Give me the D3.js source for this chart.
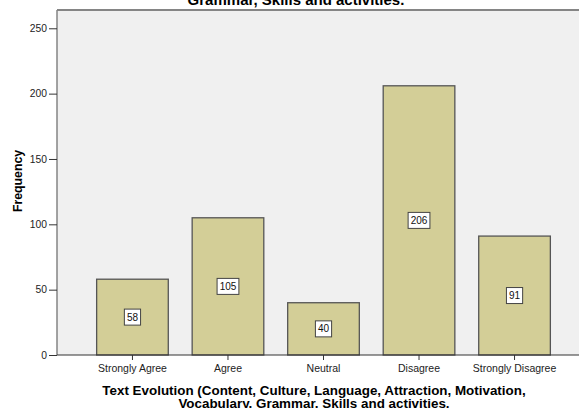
<!DOCTYPE html>
<html>
<head>
<meta charset="utf-8">
<script src="https://cdn.jsdelivr.net/npm/d3@7"></script>
<style>
body { margin: 0; background: #fff; }
svg { display: block; font-family: Arial, "Liberation Sans", sans-serif; }
</style>
</head>
<body>
<svg id="chart" width="579" height="408"></svg>
<script>
// categories and counts
var categories = ["Strongly Agree", "Agree", "Neutral", "Disagree", "Strongly Disagree"]
var counts = [58, 105, 40, 206, 91]
var yTicks = [0, 50, 100, 150, 200, 250]
var titleLastLine = "Grammar, Skills and activities."
var xTitleLines = ["Text Evolution (Content, Culture, Language, Attraction, Motivation,",
    "Vocabulary, Grammar, Skills and activities."]

var svg = d3.select("#chart")

// note: "top" is taken by window.top, so plot edges get their own names
var plotLeft = 57, plotTop = 10, plotBottom = 355, plotRight = 590

var x = d3.scaleBand()
    .domain(categories)
    .range([plotLeft, plotRight])
    .paddingInner(0.25)
    .paddingOuter(0.415)

var y = d3.scaleLinear()
    .domain([0, 264])
    .range([plotBottom, plotTop])

// plot background
svg.append("rect")
    .attr("x", plotLeft).attr("y", plotTop)
    .attr("width", plotRight - plotLeft).attr("height", plotBottom - plotTop)
    .attr("fill", "#f0f0f0")

// frame top and left
svg.append("line")
    .attr("x1", plotLeft).attr("x2", plotRight).attr("y1", plotTop).attr("y2", plotTop)
    .attr("stroke", "#858585").attr("stroke-width", 2)
svg.append("line")
    .attr("x1", plotLeft).attr("x2", plotLeft).attr("y1", plotTop).attr("y2", plotBottom)
    .attr("stroke", "#858585").attr("stroke-width", 1.5)

// bars
svg.selectAll(".bar")
    .data(counts)
    .enter()
    .append("rect")
    .attr("class", "bar")
    .attr("x", function(d, i) { return x(categories[i]) })
    .attr("y", function(d) { return y(d) })
    .attr("width", x.bandwidth())
    .attr("height", function(d) { return plotBottom - y(d) })
    .attr("fill", "#d3ce97")
    .attr("stroke", "#555")
    .attr("stroke-width", 1.3)

// value labels in white boxes
var labels = svg.selectAll(".val")
    .data(counts)
    .enter()
    .append("g")
    .attr("class", "val")
    .attr("transform", function(d, i) {
        var cx = x(categories[i]) + x.bandwidth() / 2
        var cy = (y(d) + y(0)) / 2
        return "translate(" + cx + "," + cy + ")"
    })

labels.append("rect")
    .attr("x", function(d) { return -(String(d).length * 5.6 + 5) / 2 })
    .attr("y", -8)
    .attr("width", function(d) { return String(d).length * 5.6 + 5 })
    .attr("height", 16)
    .attr("fill", "#fff")
    .attr("stroke", "#444")
    .attr("stroke-width", 1)

labels.append("text")
    .attr("text-anchor", "middle")
    .attr("y", 3.6)
    .attr("font-size", "10px")
    .attr("fill", "#111")
    .text(function(d) { return d })

// y axis
var yAxis = d3.axisLeft(y).tickValues(yTicks).tickSize(8).tickPadding(2)
var gy = svg.append("g")
    .attr("transform", "translate(" + plotLeft + ",0)")
    .call(yAxis)
gy.select(".domain").remove()
gy.selectAll("line").attr("stroke", "#333")
gy.selectAll("text").attr("font-size", "10.3px").attr("fill", "#222")
    .attr("font-family", "Arial, 'Liberation Sans', sans-serif")

// x axis
var xAxis = d3.axisBottom(x).tickSize(5).tickPadding(5)
var gx = svg.append("g")
    .attr("transform", "translate(0," + plotBottom + ")")
    .call(xAxis)
gx.select(".domain").attr("d", "M" + plotLeft + ",0H" + plotRight).attr("stroke", "#333")
gx.selectAll("line").attr("stroke", "#333")
gx.selectAll("text").attr("font-size", "10.5px").attr("fill", "#222")
    .attr("font-family", "Arial, 'Liberation Sans', sans-serif")

// y axis title
svg.append("text")
    .attr("transform", "translate(22,181) rotate(-90)")
    .attr("text-anchor", "middle")
    .attr("font-size", "12.3px")
    .attr("font-weight", "bold")
    .text("Frequency")

// x axis title
svg.selectAll(".xtitle")
    .data(xTitleLines)
    .enter()
    .append("text")
    .attr("class", "xtitle")
    .attr("x", 314)
    .attr("y", function(d, i) { return 394.5 + i * 13.5 })
    .attr("text-anchor", "middle")
    .attr("font-size", "13.4px")
    .attr("font-weight", "bold")
    .text(function(d) { return d })

// chart title, only its last line is in view
svg.append("text")
    .attr("x", 296)
    .attr("y", 5)
    .attr("text-anchor", "middle")
    .attr("font-size", "15px")
    .attr("font-weight", "bold")
    .text(titleLastLine)
</script>
</body>
</html>
